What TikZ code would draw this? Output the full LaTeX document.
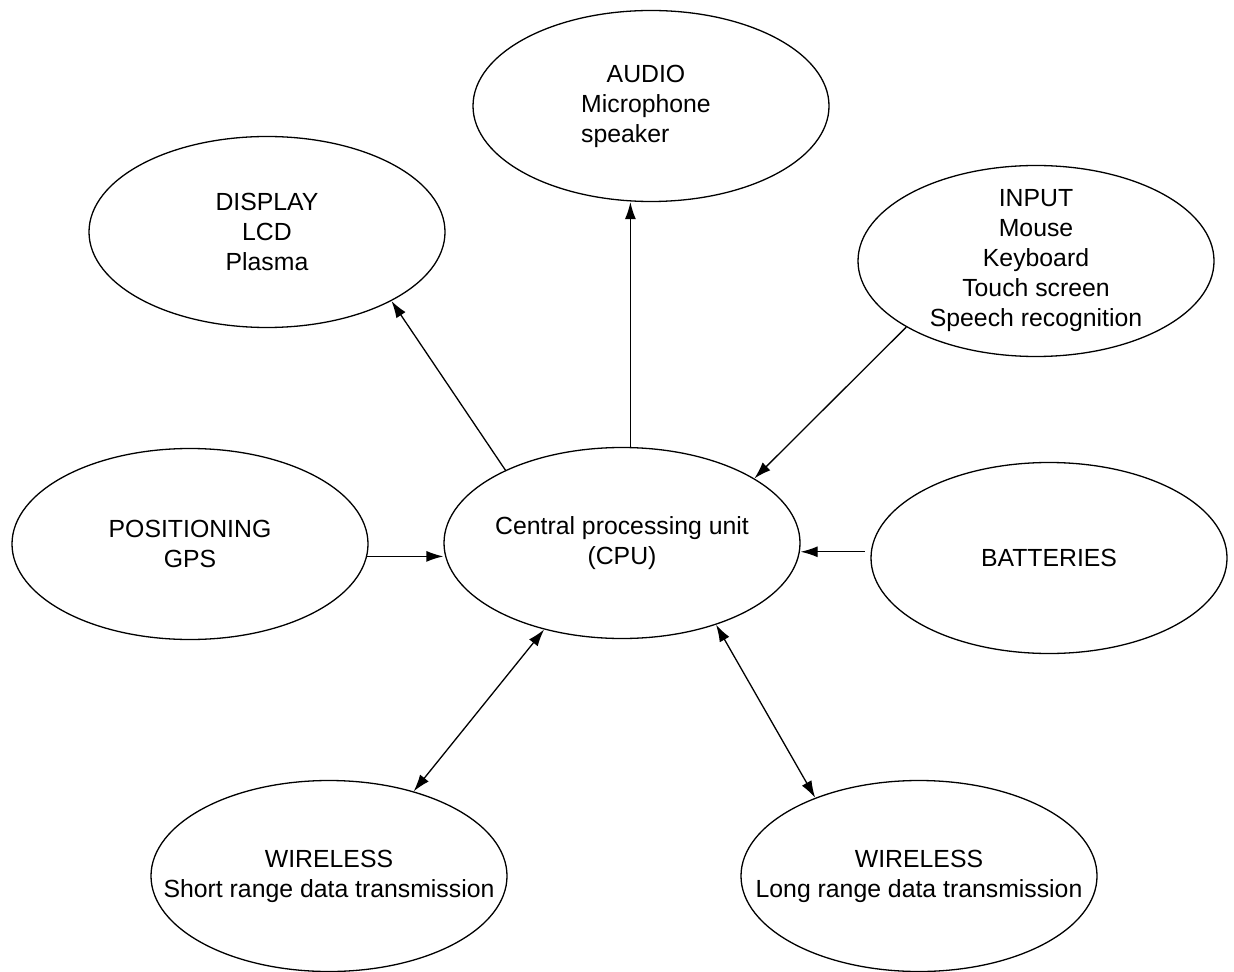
\documentclass[tikz,border=0pt]{standalone}
\usepackage{fontspec}
\setmainfont{Liberation Sans}
\usetikzlibrary{arrows.meta,shapes.geometric}
\begin{document}
\begin{tikzpicture}[x=0.5pt,y=-0.5pt,
  bubble/.style={draw, ellipse, line width=0.65pt, minimum width=178pt, minimum height=95.5pt, inner sep=0pt},
  lbl/.style={align=center, font=\fontsize{12.4}{15}\selectfont, inner sep=0pt},
  tip/.style={},
  arr/.style={line width=0.65pt, -{Latex[length=8.5pt,width=5.5pt]}},
  darr/.style={line width=0.65pt, {Latex[length=8.5pt,width=5.5pt]}-{Latex[length=8.5pt,width=5.5pt]}}]
\useasboundingbox (0,0) rectangle (1234,972);

\node[bubble] (cpu) at (622,543) {};
\node[lbl] (cpuT) at (cpu.center) {Central processing unit\\(CPU)};

\node[bubble] (aud) at (651,106) {};
\node[lbl] (audT) at (646,106) {AUDIO\\Microphone\\\rlap{speaker}\phantom{Microphone}};

\node[bubble] (disp) at (267,232) {};
\node[lbl] (dispT) at (disp.center) {DISPLAY\\LCD\\Plasma};

\node[bubble] (inp) at (1036,261) {};
\node[lbl] (inpT) at (inp.center) {INPUT\\Mouse\\Keyboard\\Touch screen\\Speech recognition};

\node[bubble] (pos) at (190,544) {};
\node[lbl] (posT) at (pos.center) {POSITIONING\\GPS};

\node[bubble] (bat) at (1049,558) {};
\node[lbl] (batT) at (bat.center) {BATTERIES};

\node[bubble] (wsr) at (329,876) {};
\node[lbl] (wsrT) at (wsr.center) {WIRELESS\\Short range data transmission};

\node[bubble] (wlr) at (919,876) {};
\node[lbl] (wlrT) at (wlr.center) {WIRELESS\\Long range data transmission};

\draw[arr] (cpu.148.4) -- (disp.-29.6);
\draw[arr] (cpu.85.2) -- (cpu.85.2 |- aud.south);
\draw[arr] (inp.-153.3) -- (cpu.26.4);
\draw[arr] (pos.-4.5) -- (pos.-4.5 -| cpu.west);
\draw[arr, shorten <=3pt] (bat.178.4) -- (bat.178.4 -| cpu.east);
\draw[darr] (cpu.-132.2) -- (wsr.45.7);
\draw[darr] (cpu.-41.8) -- (wlr.143.9);
\end{tikzpicture}
\end{document}
